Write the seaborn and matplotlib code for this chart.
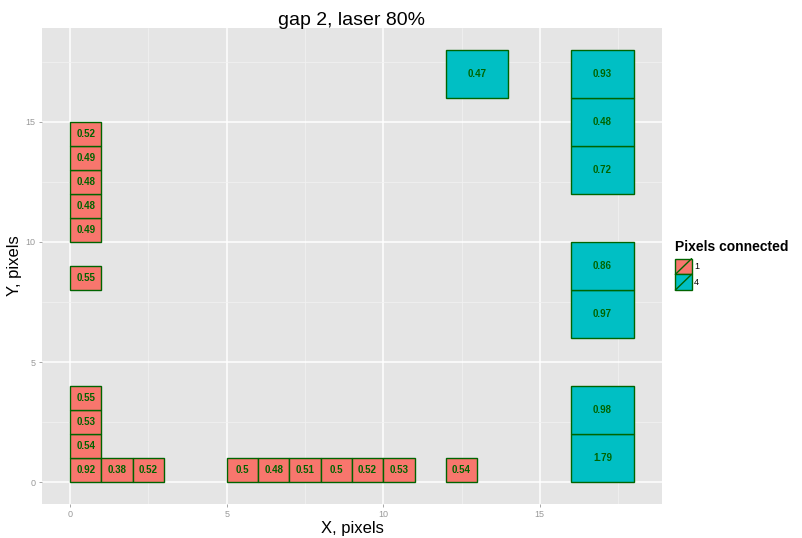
import numpy as np
import pandas as pd
import matplotlib
matplotlib.use("Agg")
import matplotlib.pyplot as plt
from matplotlib.patches import Rectangle
from matplotlib.lines import Line2D
from matplotlib.legend_handler import HandlerPatch
from matplotlib.ticker import MultipleLocator
import seaborn as sns

# tiles with 1 connected pixel (1x1)
x1 = [0, 0, 0, 0, 0, 0, 0, 0, 0, 0, 1, 2, 5, 6, 7, 8, 9, 10, 12]
y1 = [0, 1, 2, 3, 8, 10, 11, 12, 13, 14, 0, 0, 0, 0, 0, 0, 0, 0, 0]
v1 = [0.92, 0.54, 0.53, 0.55, 0.55, 0.49, 0.48, 0.48, 0.49, 0.52,
      0.38, 0.52, 0.5, 0.48, 0.51, 0.5, 0.52, 0.53, 0.54]

# tiles with 4 connected pixels (2x2)
x4 = [16, 16, 16, 16, 16, 16, 16, 12]
y4 = [0, 2, 6, 8, 12, 14, 16, 16]
v4 = [1.79, 0.98, 0.97, 0.86, 0.72, 0.48, 0.93, 0.47]

groups = ["1", "4"]

df = pd.concat([
    pd.DataFrame({"x": x1, "y": y1, "val": v1, "group": "1", "size": 1}),
    pd.DataFrame({"x": x4, "y": y4, "val": v4, "group": "4", "size": 2}),
])

sns.set_theme(style="darkgrid", rc={
    "axes.facecolor": "#E5E5E5",
    "grid.color": "white",
    "text.color": "black",
    "axes.labelcolor": "black",
})
plt.rcParams["font.family"] = ["Liberation Sans", "DejaVu Sans"]

pal = dict(zip(groups, ["#F8766D", "#00BFC4"]))
edge = "#006400"

fig = plt.figure(figsize=(8.03, 5.38), dpi=100)
ax = fig.add_axes([0.0523, 0.063, 0.772, 0.885])

for g, sub in df.groupby("group"):
    ax.bar(sub["x"], sub["size"], width=sub["size"], bottom=sub["y"],
           align="edge", color=pal[g], edgecolor=edge, linewidth=1.0, zorder=3)
    for _, r in sub.iterrows():
        ax.text(r["x"] + r["size"] / 2, r["y"] + r["size"] / 2, f"{r['val']:g}",
                ha="center", va="center", fontsize=7, fontweight="bold",
                color=edge, zorder=4)

ax.set_xlim(-0.9, 18.9)
ax.set_ylim(-0.9, 18.9)
ax.xaxis.set_major_locator(MultipleLocator(5))
ax.yaxis.set_major_locator(MultipleLocator(5))
ax.xaxis.set_minor_locator(MultipleLocator(2.5))
ax.yaxis.set_minor_locator(MultipleLocator(2.5))
ax.grid(which="major", color="white", linewidth=1.1, zorder=0)
ax.grid(which="minor", color="#F2F2F2", linewidth=0.5, zorder=0)
ax.set_axisbelow(True)
for s in ax.spines.values():
    s.set_visible(False)
ax.tick_params(axis="both", which="major", labelsize=6.5, labelcolor="#999999",
               color="#999999", length=2.5, width=0.6, pad=2, bottom=True, left=True)
ax.tick_params(which="minor", length=0)

ax.set_title("gap 2, laser 80%", fontsize=14, pad=2, color="black")
ax.set_xlabel("X, pixels", fontsize=12, labelpad=1)
ax.set_ylabel("Y, pixels", fontsize=12, labelpad=3)


class SlashHandler(HandlerPatch):
    def create_artists(self, legend, orig_handle, xdescent, ydescent,
                       width, height, fontsize, trans):
        r = Rectangle((-xdescent, -ydescent), width, height,
                      facecolor=orig_handle.get_facecolor(),
                      edgecolor=edge, linewidth=1.0, transform=trans)
        ln = Line2D([-xdescent, -xdescent + width], [-ydescent, -ydescent + height],
                    color=edge, linewidth=1.0, transform=trans)
        return [r, ln]


handles = [Rectangle((0, 0), 1, 1, facecolor=pal[g]) for g in groups]
leg = fig.legend(handles, groups, title="Pixels connected",
                 loc="upper left", bbox_to_anchor=(0.841, 0.553),
                 frameon=False, fontsize=6.5, title_fontsize=10,
                 handlelength=1.8, handleheight=2.3, handletextpad=0.3,
                 labelspacing=0.0, borderaxespad=0, borderpad=0,
                 handler_map={Rectangle: SlashHandler()})
leg.get_title().set_fontweight("bold")
leg.get_title().set_color("black")
leg._legend_box.align = "left"
leg._legend_box.sep = 3

fig.savefig("out.png", dpi=100)
